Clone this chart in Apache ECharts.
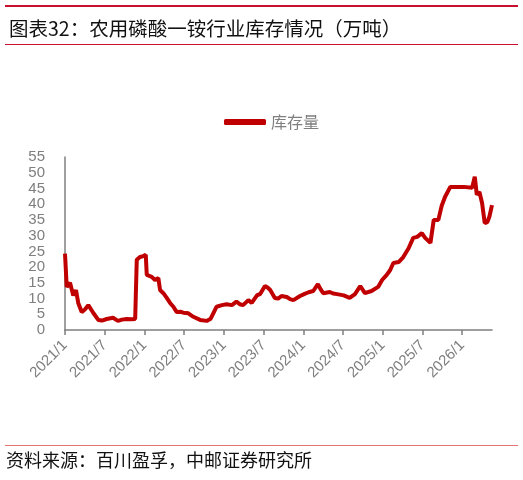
<!DOCTYPE html>
<html>
<head>
<meta charset="utf-8">
<script src="https://cdn.jsdelivr.net/npm/echarts@6/dist/echarts.min.js"></script>
<style>
html,body{margin:0;padding:0;background:#fff;}
#c{width:523px;height:480px;}
</style>
</head>
<body>
<div id="c"></div>
<script>
// months since 2021/1
var months = [0,0.26,0.76,1.25,1.66,2.0,2.52,3.0,3.52,4.28,5.03,5.6,6.3,7.25,8.0,8.6,9.3,10.0,10.6,10.84,11.33,11.83,12.2,12.35,13.1,13.6,14.1,14.36,14.86,15.37,15.87,16.37,16.88,17.4,17.88,18.63,19.39,20.4,21.4,22.0,22.4,22.9,23.7,24.4,25.2,25.9,26.4,26.9,27.7,28.2,29.0,29.5,30.2,30.6,31.0,31.7,32.2,32.7,33.5,34.0,34.5,35.5,36.2,36.8,37.5,38.2,38.6,39.0,40.0,40.5,41.1,42.1,43.0,43.8,44.6,45.3,46.3,47.3,47.9,48.6,49.1,49.6,50.4,51.1,51.9,52.6,53.2,53.9,54.4,55.2,55.7,56.4,56.9,57.4,58.2,59.2,60.2,61.5,61.9,62.2,62.6,63.0,63.4,63.8,64.1,64.5];
var values = [24.3,13.7,15.0,11.0,12.7,8.6,5.7,6.5,7.9,5.4,3.2,3.0,3.5,3.9,2.9,3.3,3.5,3.4,3.5,22.3,23.2,23.5,23.9,17.5,16.9,15.9,16.5,12.7,11.7,10.2,8.6,7.4,5.7,5.8,5.5,5.3,4.2,3.2,2.9,3.6,5.3,7.4,7.9,8.2,7.9,9.0,8.2,7.9,9.5,8.6,11.0,11.5,14.0,13.5,12.7,10.2,10.0,10.8,10.5,9.8,9.5,10.8,11.5,12.0,12.4,14.6,13.0,11.7,12.1,11.6,11.4,11.0,10.2,11.4,14.0,11.7,12.4,13.7,15.9,17.5,19.0,21.3,21.6,23.2,26.0,29.3,29.6,30.8,29.3,27.7,35.0,35.0,39.5,42.3,45.5,45.5,45.5,45.2,48.7,43.0,43.9,40.4,34.0,34.3,36.0,39.7];
var yTicks = [0,5,10,15,20,25,30,35,40,45,50,55];
var seriesName = '库存量';
var titleText = '图表32：农用磷酸一铵行业库存情况（万吨）';
var sourceText = '资料来源：百川盈孚，中邮证券研究所';

var pts = months.map(function(m,i){return [m, values[i]];});
var chart = echarts.init(document.getElementById('c'), null, {renderer:'canvas'});
var cjk = '"Noto Sans CJK SC", sans-serif';
chart.setOption({
  animation:false,
  backgroundColor:'#fff',
  title:{text:titleText,left:4,top:14,textStyle:{fontFamily:cjk,fontSize:19.5,fontWeight:'normal',color:'#111'}},
  graphic:[
    {type:'rect',shape:{x:5,y:5,width:513,height:2},style:{fill:'#c8102e'}},
    {type:'rect',shape:{x:5,y:44,width:513,height:1},style:{fill:'#c8102e'}},
    {type:'rect',shape:{x:5,y:445,width:513,height:1},style:{fill:'#e57373'}},
    {type:'text',left:6,top:451,style:{text:sourceText,font:'18px "Noto Sans CJK SC"',fill:'#111'}}
  ],
  legend:{data:[seriesName],top:109,left:219,itemWidth:42,itemHeight:6,itemGap:5,
    icon:'roundRect',textStyle:{fontFamily:cjk,fontSize:16,color:'#7f7f7f'}},
  grid:{left:65,right:31,top:157,bottom:150},
  xAxis:{type:'value',min:0,max:64.5,interval:6,
    axisLine:{lineStyle:{color:'#7f7f7f',width:1.5}},
    axisTick:{show:true,length:5,lineStyle:{color:'#7f7f7f',width:1.5}},
    splitLine:{show:false},
    axisLabel:{showMaxLabel:false,rotate:45,fontSize:15,color:'#7f7f7f',margin:13,fontFamily:'"Liberation Sans", sans-serif',
      formatter:function(v){var y=2021+Math.floor(v/12);var mo=(v%12)+1;return y+'/'+mo;}}
  },
  yAxis:{type:'value',min:0,max:55,interval:5,
    axisLine:{show:true,lineStyle:{color:'#7f7f7f',width:1.5}},
    axisTick:{show:false},splitLine:{show:false},
    axisLabel:{fontSize:15,color:'#7f7f7f',margin:20,fontFamily:'"Liberation Sans", sans-serif'}
  },
  series:[{name:seriesName,type:'line',data:pts,showSymbol:false,symbol:'none',
    lineStyle:{color:'#c00000',width:4},itemStyle:{color:'#c00000'}}]
});
</script>
</body>
</html>
